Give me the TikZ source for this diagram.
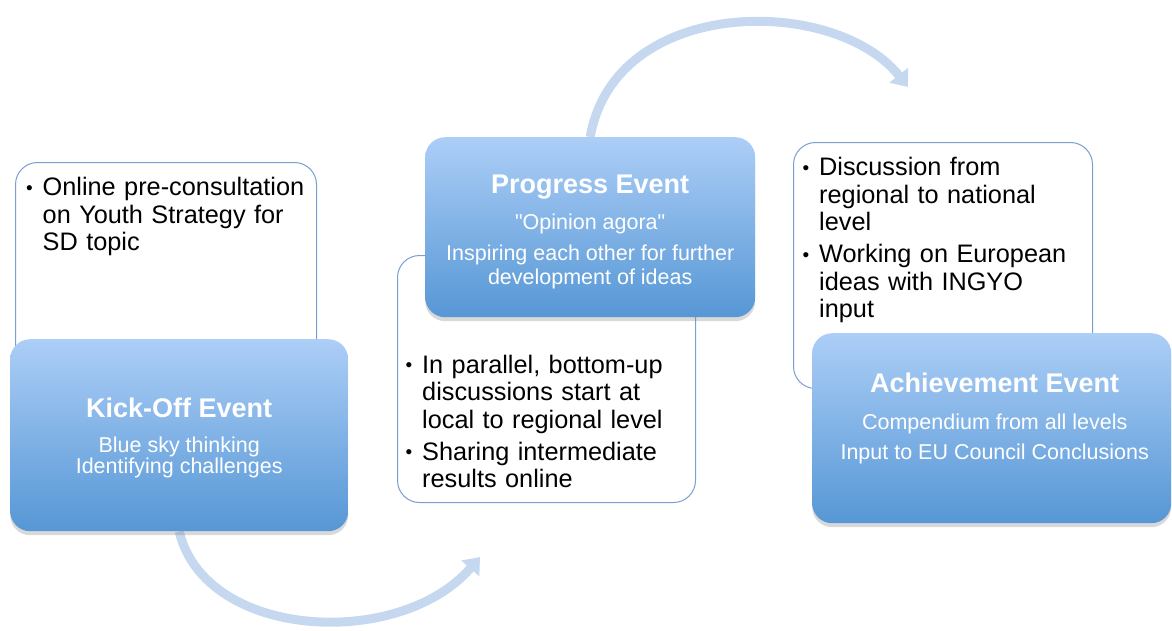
\documentclass[tikz,border=0pt]{standalone}
\usepackage{fontspec}
\setmainfont{Liberation Sans}
\usetikzlibrary{%
  arrows.meta,
  positioning,
  shadows,
  backgrounds
}
\definecolor{noteline}{RGB}{122,158,206}
\definecolor{eventtop}{RGB}{172,206,247}
\definecolor{eventbottom}{RGB}{86,151,213}
\definecolor{flowblue}{RGB}{197,216,240}
\tikzset{>={Triangle[width=23pt,length=15pt]}}
\tikzset{
  notebox/.style={draw=noteline, line width=1pt, rounded corners=22pt,
    fill=white, anchor=north west, inner sep=0pt},
  eventbox/.style={rounded corners=20pt, top color=eventtop,
    bottom color=eventbottom, anchor=north west, inner sep=0pt,
    drop shadow={shadow xshift=0pt, shadow yshift=-4pt, opacity=0.3}},
  eventtext/.style={text=white, align=center, inner sep=0pt,
    font=\fontsize{21.5}{24}\selectfont},
  notetext/.style={text width=300pt, align=left, inner sep=0pt,
    anchor=north west, font=\fontsize{25.3}{27.5}\selectfont},
  flow/.style={->, line width=9pt, draw=flowblue}
}
\newcommand\eventtitle[1]{{\fontsize{27}{30}\selectfont\bfseries #1}}
\newcommand\bul[1]{\par\hangindent=16.5pt\hangafter=1\noindent
  \makebox[16.5pt][l]{\raisebox{1.5pt}{\fontsize{19}{19}\selectfont\textbullet}}#1\par}

\begin{document}
\begin{tikzpicture}[x=1pt,y=-1pt]

  \useasboundingbox (0,0) rectangle (1172,630);

  \node[notebox, minimum width=301pt, minimum height=220pt] (kicknote) at (15,162) {};
  \node[notebox, minimum width=298pt, minimum height=247pt] (prognote) at (397,255) {};
  \node[notebox, minimum width=299pt, minimum height=246pt] (achnote) at (793,142) {};

  \node[eventbox, minimum width=338pt, minimum height=192pt] (kick) at (10,339) {};
  \node[eventbox, minimum width=330pt, minimum height=180pt] (prog) at (425,137) {};
  \node[eventbox, minimum width=359pt, minimum height=190pt] (ach) at (812,333) {};

  \node[eventtext, below=58.7pt of kick.north] (kicktext)
    {\eventtitle{Kick-Off Event}\\[11pt]
     Blue sky thinking\\[-3pt] Identifying challenges};
  \node[eventtext, below=37.9pt of prog.north] (progtext)
    {\eventtitle{Progress Event}\\[12pt]
     \textquotedbl Opinion agora\textquotedbl\\[7pt]
     Inspiring each other for further\\ development of ideas};
  \node[eventtext, below=40.2pt of ach.north, xshift=3pt] (achtext)
    {\eventtitle{Achievement Event}\\[13pt]
     Compendium from all levels\\[6pt] Input to EU Council Conclusions};

  \node[notetext] (kicklist) at (26,168.2)
    {\bul{Online pre-consultation\newline on Youth Strategy for\newline SD topic}};
  \node[notetext] (proglist) at (405.5,345.6)
    {\bul{In parallel, bottom-up\newline discussions start at\newline local to regional level}
     \vspace{4.5pt}
     \bul{Sharing intermediate\newline results online}};
  \node[notetext] (achlist) at (802.5,148.2)
    {\bul{Discussion from\newline regional to national\newline level}
     \vspace{4.5pt}
     \bul{Working on European\newline ideas with INGYO\newline input}};

  \begin{scope}[on background layer]
    \coordinate (kickend) at (480,557);
    \coordinate (progend) at (908,87);
    \draw[flow] (kick.south) .. controls (205,640) and (400,650) .. (kickend);
    \draw[flow] (prog.north) .. controls (615,-5) and (835,-5) .. (progend);
  \end{scope}

\end{tikzpicture}
\end{document}
